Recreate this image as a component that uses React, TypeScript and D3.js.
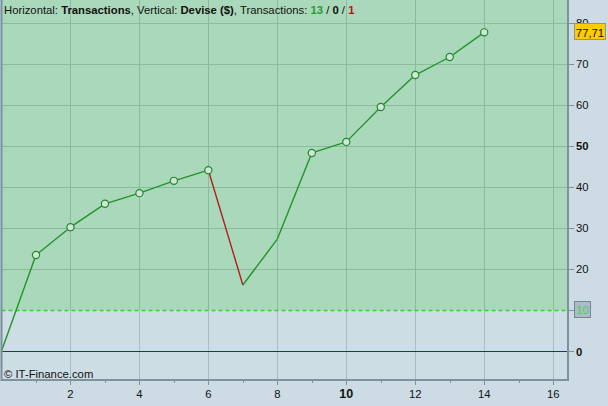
import { useEffect, useRef } from "react";
import * as d3 from "d3";

// transaction index -> equity value
const TX = [0, 1, 2, 3, 4, 5, 6, 7, 8, 9, 10, 11, 12, 13, 14];
const EQUITY = [0, 23.4, 30.2, 35.9, 38.5, 41.5, 44.1, 16.1, 27.3, 48.3, 51, 59.5, 67.3, 71.7, 77.71];
// which points carry a marker
const MARKED = [false, true, true, true, true, true, true, false, false, true, true, true, true, true, true];
// segment that ends at index i is losing
const LOSING_END = [7];

const X_TICKS = [2, 4, 6, 8, 10, 12, 14, 16];
const X_MINOR = [1, 3, 5, 7, 9, 11, 13, 15];
const Y_TICKS = [0, 10, 20, 30, 40, 50, 60, 70, 80];
const BOLD_Y = [0, 50];
const THRESHOLD = 10;

export default function App() {
  const ref = useRef<SVGSVGElement | null>(null);

  useEffect(() => {
    if (!ref.current) return;
    const W = 608, H = 406;
    const left = 1.5, right = 568, top = 0, bottom = 380;
    const font = "'Liberation Sans', Arial, sans-serif";
    const fs = 11.3;

    const svg = d3.select(ref.current);
    svg.selectAll("*").remove();
    svg.attr("width", W).attr("height", H);

    const x = d3.scaleLinear().domain([0, 16.43]).range([left, right]);
    const y = d3.scaleLinear().domain([-7.07, 85.6]).range([bottom, top]);
    const crisp = (v: number) => Math.round(v) + 0.5;

    svg.append("rect").attr("width", W).attr("height", H).attr("fill", "#cddce4");

    // zones
    const yT = crisp(y(THRESHOLD));
    svg.append("rect").attr("x", left).attr("y", top)
      .attr("width", right - left).attr("height", yT - top).attr("fill", "#a9d9ba");
    svg.append("rect").attr("x", left).attr("y", yT)
      .attr("width", right - left).attr("height", bottom - yT).attr("fill", "#cddde4");

    // grid
    const grid = svg.append("g");
    for (const t of X_TICKS) {
      const gx = crisp(x(t));
      grid.append("line").attr("x1", gx).attr("x2", gx).attr("y1", top).attr("y2", yT)
        .attr("stroke", "#8cbb9c").attr("stroke-width", 1);
      grid.append("line").attr("x1", gx).attr("x2", gx).attr("y1", yT).attr("y2", bottom)
        .attr("stroke", "#adbcc4").attr("stroke-width", 1);
    }
    for (const t of Y_TICKS) {
      if (t <= THRESHOLD) continue;
      grid.append("line").attr("x1", left).attr("x2", right).attr("y1", crisp(y(t))).attr("y2", crisp(y(t)))
        .attr("stroke", "#8cbb9c").attr("stroke-width", 1);
    }

    // threshold dashed line & zero line
    svg.append("line").attr("x1", left).attr("x2", right)
      .attr("y1", yT).attr("y2", yT)
      .attr("stroke", "#33d433").attr("stroke-width", 1.3).attr("stroke-dasharray", "4,3");
    svg.append("line").attr("x1", left).attr("x2", right)
      .attr("y1", crisp(y(0))).attr("y2", crisp(y(0)))
      .attr("stroke", "#2323c0").attr("stroke-width", 1.1);

    // equity line
    const pts = TX.map((t, i) => ({ t, v: EQUITY[i], m: MARKED[i] }));
    for (let i = 1; i < pts.length; i++) {
      const a = pts[i - 1], b = pts[i];
      svg.append("line")
        .attr("x1", x(a.t)).attr("y1", y(a.v)).attr("x2", x(b.t)).attr("y2", y(b.v))
        .attr("stroke", LOSING_END.includes(i) ? "#b41e1e" : "#24922a")
        .attr("stroke-width", 1.4);
    }
    for (const p of pts) {
      if (!p.m) continue;
      svg.append("circle").attr("cx", x(p.t)).attr("cy", y(p.v)).attr("r", 3.6)
        .attr("fill", "#d2e4dc").attr("stroke", "#1f8a26").attr("stroke-width", 1.2);
    }

    // frame
    svg.append("line").attr("x1", left).attr("x2", left).attr("y1", top).attr("y2", bottom + 1)
      .attr("stroke", "#7890a0").attr("stroke-width", 2);
    svg.append("line").attr("x1", right).attr("x2", right).attr("y1", top).attr("y2", bottom + 1)
      .attr("stroke", "#7d929c").attr("stroke-width", 2);
    svg.append("line").attr("x1", left).attr("x2", right + 1).attr("y1", bottom).attr("y2", bottom)
      .attr("stroke", "#7d929c").attr("stroke-width", 2);

    // x axis
    const xa = svg.append("g").attr("font-family", font).attr("font-size", fs).attr("fill", "#111");
    for (const t of X_MINOR) {
      xa.append("line").attr("x1", crisp(x(t))).attr("x2", crisp(x(t))).attr("y1", bottom + 1).attr("y2", bottom + 3)
        .attr("stroke", "#7d929c");
    }
    for (const t of X_TICKS) {
      xa.append("line").attr("x1", crisp(x(t))).attr("x2", crisp(x(t))).attr("y1", bottom + 1).attr("y2", bottom + 5)
        .attr("stroke", "#7d929c");
      xa.append("text").attr("x", x(t)).attr("y", 398).attr("text-anchor", "middle")
        .attr("font-weight", t === 10 ? "bold" : "normal").attr("font-size", t === 10 ? 12.5 : fs)
        .text(String(t));
    }

    // y axis
    const ya = svg.append("g").attr("font-family", font).attr("font-size", fs).attr("fill", "#111");
    for (const t of Y_TICKS) {
      if (t === THRESHOLD) continue;
      ya.append("line").attr("x1", right + 1).attr("x2", right + 6).attr("y1", crisp(y(t))).attr("y2", crisp(y(t)))
        .attr("stroke", "#7d929c");
      ya.append("text").attr("x", right + 8).attr("y", y(t) + 4.5)
        .attr("font-weight", BOLD_Y.includes(t) ? "bold" : "normal").text(String(t));
    }
    ya.append("line").attr("x1", right + 1).attr("x2", right + 6).attr("y1", yT).attr("y2", yT)
      .attr("stroke", "#7d929c");
    ya.append("rect").attr("x", 574.5).attr("y", yT - 9).attr("width", 16).attr("height", 16)
      .attr("fill", "#a9bcc8").attr("stroke", "#74878f");
    ya.append("text").attr("x", 582.5).attr("y", yT + 3.5).attr("text-anchor", "middle")
      .attr("fill", "#52d052").text(String(THRESHOLD));

    // last value label
    const last = EQUITY[EQUITY.length - 1];
    ya.append("rect").attr("x", 574.5).attr("y", Math.round(y(last)) - 8.5).attr("width", 31).attr("height", 16)
      .attr("fill", "#ffcc00").attr("stroke", "#8a969a");
    ya.append("text").attr("x", 590).attr("y", y(last) + 4.5).attr("text-anchor", "middle")
      .attr("fill", "#1a0a00").text(last.toFixed(2).replace(".", ","));

    // header
    const head = svg.append("text").attr("x", 4).attr("y", 14)
      .attr("font-family", font).attr("font-size", fs).attr("fill", "#111");
    const parts: [string, string, boolean][] = [
      ["Horizontal: ", "#111", false],
      ["Transactions", "#111", true],
      [", Vertical: ", "#111", false],
      ["Devise ($)", "#111", true],
      [", Transactions: ", "#111", false],
      ["13", "#2a9a2a", true],
      [" / ", "#111", false],
      ["0", "#111", true],
      [" / ", "#111", false],
      ["1", "#c01010", true],
    ];
    for (const [s, c, b] of parts) {
      head.append("tspan").attr("fill", c).attr("font-weight", b ? "bold" : "normal").text(s);
    }

    svg.append("text").attr("x", 4).attr("y", 378)
      .attr("font-family", font).attr("font-size", fs).attr("fill", "#111")
      .text("© IT-Finance.com");
  }, []);

  return <svg ref={ref} style={{ position: "absolute", left: 0, top: 0, display: "block" }} />;
}
